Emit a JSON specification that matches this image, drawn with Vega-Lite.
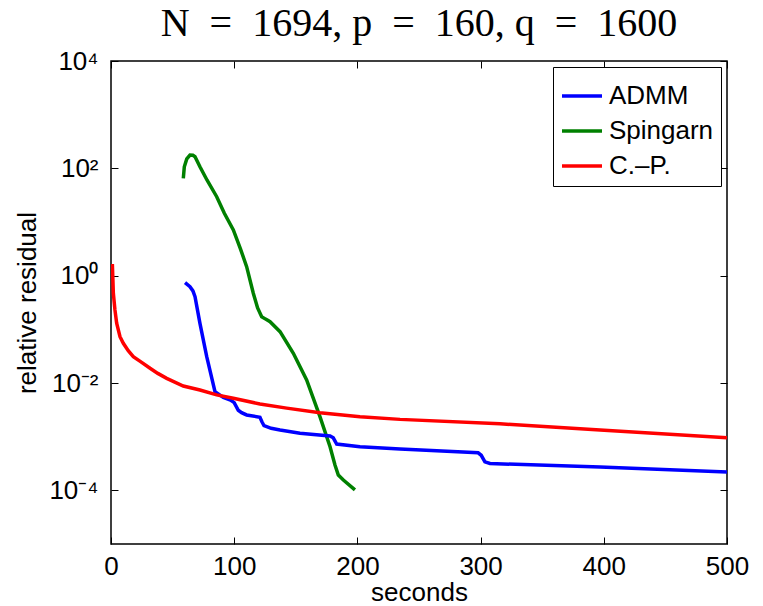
{
  "$schema": "https://vega.github.io/schema/vega-lite/v6.json",
  "autosize": {"type": "none"},
  "padding": {"left": 111, "top": 61, "right": 36, "bottom": 62},
  "width": 616,
  "height": 483,
  "background": "white",
  "title": {
    "text": "N\u2002=\u20021694, p\u2002=\u2002160, q\u2002=\u20021600",
    "font": "Liberation Serif",
    "fontSize": 40,
    "fontWeight": "normal",
    "color": "#000",
    "offset": 4,
    "anchor": "middle"
  },
  "config": {
    "view": {"stroke": "#000", "strokeWidth": 1.5},
    "axis": {
      "domain": false,
      "grid": false,
      "tickColor": "#000",
      "tickWidth": 1,
      "labelColor": "#000",
      "titleColor": "#000",
      "labelFont": "Liberation Sans",
      "titleFont": "Liberation Sans",
      "labelFontSize": 26,
      "titleFontSize": 26,
      "titleFontWeight": "normal"
    }
  },
  "data": {
    "values": [
      {"method": "Spingarn", "t": 58.7, "r": 65.2},
      {"method": "Spingarn", "t": 59.5, "r": 107},
      {"method": "Spingarn", "t": 61.5, "r": 150},
      {"method": "Spingarn", "t": 64.1, "r": 177},
      {"method": "Spingarn", "t": 66.5, "r": 175},
      {"method": "Spingarn", "t": 68.2, "r": 165},
      {"method": "Spingarn", "t": 72.2, "r": 107},
      {"method": "Spingarn", "t": 78, "r": 60},
      {"method": "Spingarn", "t": 85.8, "r": 29.6},
      {"method": "Spingarn", "t": 92, "r": 14.5},
      {"method": "Spingarn", "t": 99.3, "r": 7.1},
      {"method": "Spingarn", "t": 105, "r": 3.2},
      {"method": "Spingarn", "t": 110.1, "r": 1.47},
      {"method": "Spingarn", "t": 115.5, "r": 0.47},
      {"method": "Spingarn", "t": 119, "r": 0.25},
      {"method": "Spingarn", "t": 122.3, "r": 0.172},
      {"method": "Spingarn", "t": 125.5, "r": 0.155},
      {"method": "Spingarn", "t": 129.1, "r": 0.139},
      {"method": "Spingarn", "t": 137.2, "r": 0.0904},
      {"method": "Spingarn", "t": 148, "r": 0.0358},
      {"method": "Spingarn", "t": 158.8, "r": 0.0114},
      {"method": "Spingarn", "t": 169.6, "r": 0.00236},
      {"method": "Spingarn", "t": 177.8, "r": 0.00065},
      {"method": "Spingarn", "t": 181.8, "r": 0.000297},
      {"method": "Spingarn", "t": 184.5, "r": 0.000193},
      {"method": "Spingarn", "t": 188.6, "r": 0.000156},
      {"method": "Spingarn", "t": 198, "r": 0.000102},
      {"method": "ADMM", "t": 60.1, "r": 0.741},
      {"method": "ADMM", "t": 64.1, "r": 0.624},
      {"method": "ADMM", "t": 66.5, "r": 0.52},
      {"method": "ADMM", "t": 68.2, "r": 0.406},
      {"method": "ADMM", "t": 72.2, "r": 0.129},
      {"method": "ADMM", "t": 77.7, "r": 0.0309},
      {"method": "ADMM", "t": 84.4, "r": 0.0069},
      {"method": "ADMM", "t": 91.2, "r": 0.0054},
      {"method": "ADMM", "t": 97, "r": 0.0048},
      {"method": "ADMM", "t": 100, "r": 0.0043},
      {"method": "ADMM", "t": 103.3, "r": 0.0031},
      {"method": "ADMM", "t": 106, "r": 0.0028},
      {"method": "ADMM", "t": 110.1, "r": 0.00254},
      {"method": "ADMM", "t": 120.9, "r": 0.0023},
      {"method": "ADMM", "t": 122.5, "r": 0.0019},
      {"method": "ADMM", "t": 124.2, "r": 0.0016},
      {"method": "ADMM", "t": 130, "r": 0.00143},
      {"method": "ADMM", "t": 137.2, "r": 0.00133},
      {"method": "ADMM", "t": 153.4, "r": 0.00116},
      {"method": "ADMM", "t": 177.8, "r": 0.00103},
      {"method": "ADMM", "t": 180.4, "r": 0.00095},
      {"method": "ADMM", "t": 183.2, "r": 0.00073},
      {"method": "ADMM", "t": 202.1, "r": 0.00065},
      {"method": "ADMM", "t": 234.6, "r": 0.00059},
      {"method": "ADMM", "t": 298, "r": 0.0005},
      {"method": "ADMM", "t": 300.5, "r": 0.00045},
      {"method": "ADMM", "t": 303.5, "r": 0.00034},
      {"method": "ADMM", "t": 307.6, "r": 0.000316},
      {"method": "ADMM", "t": 397, "r": 0.000272},
      {"method": "ADMM", "t": 500, "r": 0.000219},
      {"method": "C.–P.", "t": 1.1, "r": 1.65},
      {"method": "C.–P.", "t": 1.5, "r": 0.9},
      {"method": "C.–P.", "t": 1.9, "r": 0.47},
      {"method": "C.–P.", "t": 3.2, "r": 0.23},
      {"method": "C.–P.", "t": 4.6, "r": 0.13},
      {"method": "C.–P.", "t": 7.3, "r": 0.073},
      {"method": "C.–P.", "t": 10, "r": 0.055},
      {"method": "C.–P.", "t": 14, "r": 0.04},
      {"method": "C.–P.", "t": 18.1, "r": 0.031},
      {"method": "C.–P.", "t": 24, "r": 0.025},
      {"method": "C.–P.", "t": 31.7, "r": 0.0188},
      {"method": "C.–P.", "t": 38, "r": 0.0151},
      {"method": "C.–P.", "t": 45.2, "r": 0.0122},
      {"method": "C.–P.", "t": 58.7, "r": 0.0088},
      {"method": "C.–P.", "t": 72.2, "r": 0.0074},
      {"method": "C.–P.", "t": 85.8, "r": 0.006},
      {"method": "C.–P.", "t": 99.3, "r": 0.0052},
      {"method": "C.–P.", "t": 120.9, "r": 0.00406},
      {"method": "C.–P.", "t": 142.6, "r": 0.0034},
      {"method": "C.–P.", "t": 169.6, "r": 0.0028},
      {"method": "C.–P.", "t": 202.1, "r": 0.00236},
      {"method": "C.–P.", "t": 234.6, "r": 0.0021},
      {"method": "C.–P.", "t": 315.7, "r": 0.00174},
      {"method": "C.–P.", "t": 397, "r": 0.00133},
      {"method": "C.–P.", "t": 500, "r": 0.00095}
    ]
  },
  "layer": [
    {
      "mark": {"type": "line", "strokeWidth": 3.5, "clip": true},
      "encoding": {
        "x": {
          "field": "t", "type": "quantitative",
          "scale": {"domain": [0, 500], "nice": false, "zero": false},
          "axis": {"orient": "bottom", "values": [0, 100, 200, 300, 400, 500], "tickSize": -7, "labelPadding": 16, "title": "seconds", "titlePadding": 0, "labelFlush": false}
        },
        "y": {
          "field": "r", "type": "quantitative",
          "scale": {"type": "log", "domain": [0.00001, 10000], "nice": false},
          "axis": {"orient": "left", "values": [0.0001, 0.01, 1, 100, 10000], "tickSize": -7, "labelPadding": 20, "title": "relative residual", "titlePadding": 8,
            "labelExpr": "datum.value >= 5000 ? '10⁴' : datum.value >= 50 ? '10²' : datum.value >= 0.5 ? '10⁰' : datum.value >= 0.005 ? '10⁻²' : '10⁻⁴'"}
        },
        "color": {
          "field": "method", "type": "nominal",
          "scale": {"domain": ["ADMM", "Spingarn", "C.–P."], "range": ["#0000ff", "#008000", "#ff0000"]},
          "legend": {
            "title": null,
            "orient": "top-right",
            "offset": 6,
            "symbolType": "stroke",
            "symbolSize": 1600,
            "symbolStrokeWidth": 3.5,
            "labelFont": "Liberation Sans",
            "labelFontSize": 26,
            "labelColor": "#000",
            "labelOffset": 5,
            "rowPadding": -7,
            "padding": 7,
            "strokeColor": "#000",
            "fillColor": "#fff"
          }
        },
        "order": {"field": "t", "type": "quantitative"}
      }
    },
    {
      "mark": {"type": "point", "opacity": 0},
      "encoding": {
        "x": {"field": "t", "type": "quantitative", "axis": {"orient": "top", "values": [0, 100, 200, 300, 400, 500], "tickSize": -7, "labels": false, "title": null}},
        "y": {"field": "r", "type": "quantitative", "axis": {"orient": "right", "values": [0.0001, 0.01, 1, 100, 10000], "tickSize": -7, "labels": false, "title": null}}
      }
    }
  ],
  "resolve": {"axis": {"x": "independent", "y": "independent"}}
}
